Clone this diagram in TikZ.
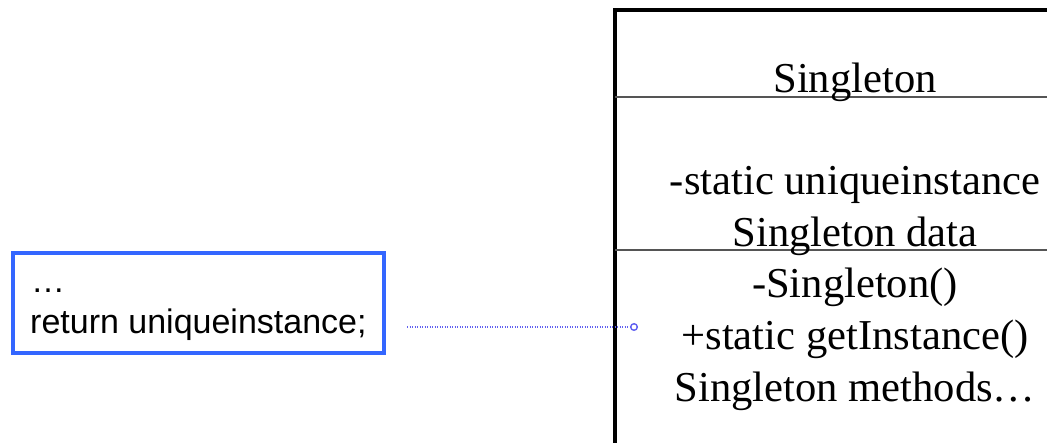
\documentclass[tikz,border=0pt]{standalone}
\usepackage{fontspec}
\setmainfont{Liberation Serif}
\newfontfamily\codefont{Liberation Sans}
\usetikzlibrary{arrows.meta}
\definecolor{codeblue}{HTML}{3366FF}
\definecolor{linkblue}{HTML}{6060F0}
\definecolor{sepgray}{HTML}{555555}
\tikzset{
  x=1pt, y=-1pt,
  member/.style={anchor=base, inner sep=0pt, font=\fontsize{42.6}{52}\selectfont},
  codebox/.style={draw=codeblue, line width=3.4pt, minimum width=371pt, minimum height=100pt, inner sep=0pt},
  codetext/.style={anchor=base west, inner sep=0pt, font=\codefont\fontsize{34}{41}\selectfont},
  classedge/.style={draw=black, line width=3.6pt},
  separator/.style={draw=sepgray, line width=2.6pt},
  link/.style={draw=linkblue, line width=1.8pt, dash pattern=on 1.4pt off 1.1pt, -{Circle[open, length=8pt, width=8pt, line width=1.4pt]}}
}
\begin{document}
\begin{tikzpicture}
\useasboundingbox (0,0) rectangle (1047,443);
\clip (0,0) rectangle (1047,443);

% class outline (continues past the right and bottom edges)
\coordinate (ctl) at (615,10);
\draw[classedge] (615,460) -- (ctl) -- (1060,10);
\draw[separator] (615,97) -- (1060,97);
\draw[separator] (615,250) -- (1060,250);

% class compartments
\node[member] (name) at (855,93) {Singleton};
\node[member] (attr1) at (855,195) {-static uniqueinstance};
\node[member] (attr2) at (855,247) {Singleton data};
\node[member] (op1) at (855,298) {-Singleton()};
\node[member] (op2) at (855,350) {+static getInstance()};
\node[member] (op3) at (855,402) {Singleton methods\ldots};

% code note
\node[codebox] (code) at (198.5,303) {};
\node[codetext] (dots) at (31,293) {\ldots};
\node[codetext] (ret) at (30,334) {return uniqueinstance;};

% note link into the getInstance operation
\coordinate (src) at (407,327);
\coordinate (tip) at (638,327);
\draw[link] (src) -- (tip);
\end{tikzpicture}
\end{document}
